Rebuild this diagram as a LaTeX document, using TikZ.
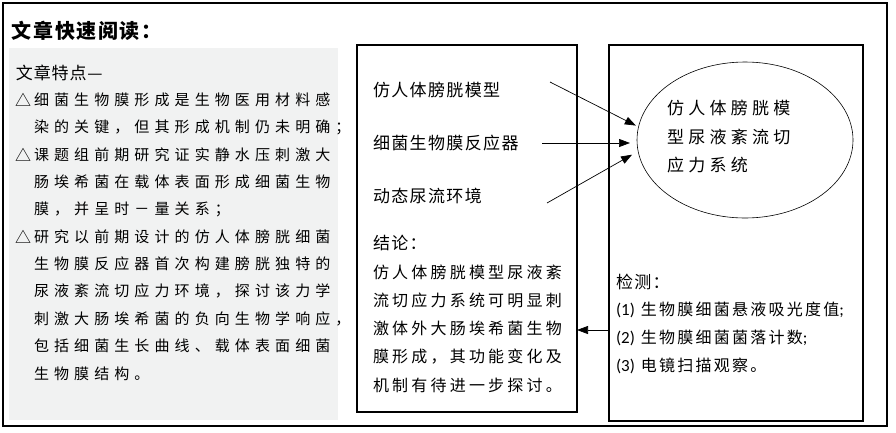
\documentclass[tikz,border=0pt]{standalone}
\usepackage{fontspec}
\setmainfont{Noto Sans CJK SC}
\newfontfamily\latinfont{Carlito}
\usetikzlibrary{arrows.meta,shapes.geometric}
\definecolor{panelgray}{HTML}{F1F2F2}
\newcommand{\lat}[1]{{\latinfont\fontsize{17}{17}\selectfont #1}}

\begin{document}
\begin{tikzpicture}[x=1pt, y=-1pt,
  every node/.style={inner sep=0pt, outer sep=0pt},
  frame/.style={draw, line width=1.2pt},
  side/.style={anchor=west, font=\fontsize{15}{15}\selectfont\addfontfeature{LetterSpace=34}},
  tri/.style={anchor=west, font=\fontsize{16}{16}\selectfont},
  item/.style={anchor=west, font=\fontsize{17}{17}\selectfont\addfontfeature{LetterSpace=8}},
  concl/.style={anchor=west, font=\fontsize{16}{16}\selectfont\addfontfeature{LetterSpace=20}},
  elltxt/.style={anchor=west, font=\fontsize{17}{17}\selectfont\addfontfeature{LetterSpace=25}},
  dettxt/.style={anchor=west, font=\fontsize{16}{16}\selectfont\addfontfeature{LetterSpace=14}},
  arr/.style={-{Triangle[length=11pt,width=8pt]}, line width=0.7pt}]
\useasboundingbox (0,0) rectangle (896,432);

% frames
\node[frame, minimum width=884pt, minimum height=423pt] (page) at (445,214.5) {};
\node[fill=panelgray, minimum width=329pt, minimum height=372pt] (feat) at (173.5,234) {};
\node[frame, minimum width=220pt, minimum height=367pt] (mid) at (467,228.5) {};
\node[frame, minimum width=254pt, minimum height=376pt] (det) at (736,233) {};
\node[draw, ellipse, line width=0.6pt, minimum width=216pt, minimum height=156pt] (sys) at (745,140) {};

% title
\node[anchor=west, font=\fontsize{20}{20}\selectfont\bfseries\addfontfeature{LetterSpace=8}] (title) at (12,31) {文章快速阅读：};

% left panel
\node[anchor=west, font=\fontsize{17}{17}\selectfont\addfontfeature{LetterSpace=5}] (feathead) at (16,73) {文章特点—};
\node[tri] (tri1) at (15,100.3) {△};
\node[side] (f1) at (34,100.3) {细菌生物膜形成是生物医用材料感};
\node[side] (f2) at (34,127.6) {染的关键，但其形成机制仍未明确；};
\node[tri] (tri2) at (15,154.9) {△};
\node[side] (f3) at (34,154.9) {课题组前期研究证实静水压刺激大};
\node[side] (f4) at (34,182.2) {肠埃希菌在载体表面形成细菌生物};
\node[side] (f5) at (34,209.5) {膜，并呈时－量关系；};
\node[tri] (tri3) at (15,236.8) {△};
\node[side] (f6) at (34,236.8) {研究以前期设计的仿人体膀胱细菌};
\node[side] (f7) at (34,264.1) {生物膜反应器首次构建膀胱独特的};
\node[side] (f8) at (34,291.4) {尿液紊流切应力环境，探讨该力学};
\node[side] (f9) at (34,318.7) {刺激大肠埃希菌的负向生物学响应，};
\node[side] (f10) at (34,346) {包括细菌生长曲线、载体表面细菌};
\node[side] (f11) at (34,373.3) {生物膜结构。};

% middle panel
\node[item] (m1) at (373,90) {仿人体膀胱模型};
\node[item] (m2) at (373,143) {细菌生物膜反应器};
\node[item] (m3) at (373,196) {动态尿流环境};
\node[item] (res) at (373,243) {结论：};
\node[concl] (r1) at (373,272) {仿人体膀胱模型尿液紊};
\node[concl] (r2) at (373,300) {流切应力系统可明显刺};
\node[concl] (r3) at (373,328) {激体外大肠埃希菌生物};
\node[concl] (r4) at (373,357) {膜形成，其功能变化及};
\node[concl] (r5) at (373,385) {机制有待进一步探讨。};

% ellipse text
\node[elltxt] (e1) at (667,108) {仿人体膀胱模};
\node[elltxt] (e2) at (667,136.5) {型尿液紊流切};
\node[elltxt] (e3) at (667,165) {应力系统};

% right panel
\node[item] (dhead) at (616,282) {检测：};
\node[dettxt] (d1) at (616,310) {\lat{(1)}\hspace{6pt}生物膜细菌悬液吸光度值\lat{;}};
\node[dettxt] (d2) at (616,338) {\lat{(2)}\hspace{6pt}生物膜细菌菌落计数\lat{;}};
\node[dettxt] (d3) at (616,366) {\lat{(3)}\hspace{6pt}电镜扫描观察。};

% connectors
\coordinate (s1) at (550,82);
\coordinate (s2) at (542,143);
\coordinate (s3) at (547,203);
\coordinate (lnk) at (609,330);
\draw[arr, shorten >=3pt] (s1) -- (sys.173);
\draw[arr, shorten >=7pt] (s2) -- (s2 -| sys.west);
\draw[arr, shorten >=7pt] (s3) -- (sys.186);
\draw[arr] (lnk) -- (lnk -| mid.east);
\end{tikzpicture}
\end{document}
